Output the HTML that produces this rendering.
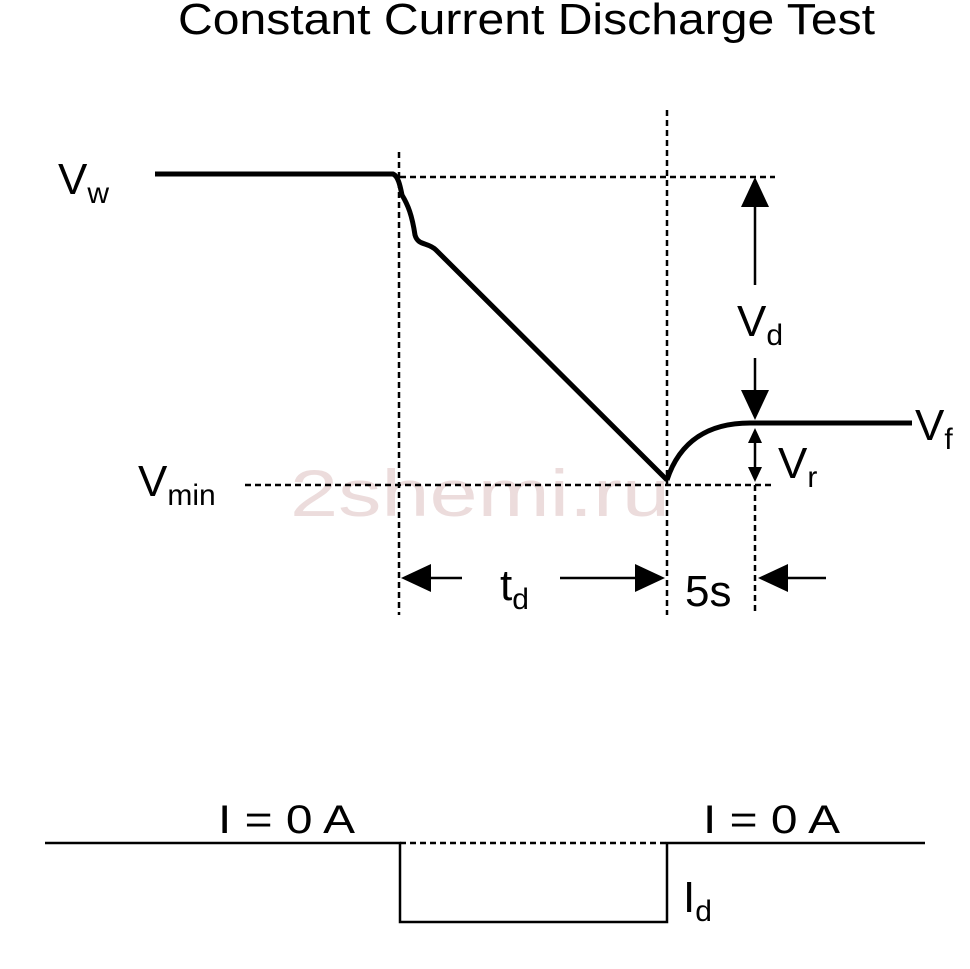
<!DOCTYPE html>
<html><head><style>html,body{margin:0;padding:0;background:#fff}svg{display:block}</style></head>
<body>
<svg width="970" height="969" viewBox="0 0 970 969" xmlns="http://www.w3.org/2000/svg" font-family="Liberation Sans, Arial, sans-serif">
<rect width="970" height="969" fill="#fff"/>
<text x="178" y="34" font-size="44" textLength="697" lengthAdjust="spacingAndGlyphs">Constant Current Discharge Test</text>
<text x="290" y="516" font-size="66" fill="#ecdcdc" textLength="380" lengthAdjust="spacingAndGlyphs">2shemi.ru</text>
<g stroke="#000" stroke-width="2.5" stroke-dasharray="6,4" fill="none">
<line x1="399" y1="152" x2="399" y2="615"/>
<line x1="667" y1="110" x2="667" y2="615"/>
<line x1="755" y1="485" x2="755" y2="615"/>
<line x1="400" y1="177" x2="775" y2="177"/>
<line x1="245" y1="485" x2="775" y2="485"/>
<line x1="400" y1="843" x2="667" y2="843"/>
</g>
<g stroke="#000" stroke-width="5" fill="none" stroke-linejoin="round">
<path d="M155 174 L393 174 C398 176 400 185 402 195 C408 205 412 215 415 235 C418 246 428 242 436 250 L667 480"/>
<path d="M667 480 C680 440 710 423 750 423 L912 423"/>
</g>
<g stroke="#000" stroke-width="2.5" fill="none">
<line x1="755" y1="200" x2="755" y2="285"/>
<line x1="755" y1="358" x2="755" y2="395"/>
<line x1="755" y1="440" x2="755" y2="470"/>
<line x1="425" y1="578" x2="462" y2="578"/>
<line x1="560" y1="578" x2="640" y2="578"/>
<line x1="780" y1="578" x2="826" y2="578"/>
<path d="M45 843 L400 843 L400 922 L667 922 L667 843 L925 843"/>
</g>
<g fill="#000">
<polygon points="755,177 741,207 769,207"/>
<polygon points="755,420 741,390 769,390"/>
<polygon points="755,428 748,443 762,443"/>
<polygon points="755,482 748,467 762,467"/>
<polygon points="401,578 431,564 431,592"/>
<polygon points="665,578 635,564 635,592"/>
<polygon points="758,578 788,564 788,592"/>
</g>
<g font-size="44">
<text x="58" y="194">V<tspan font-size="30" dy="9">w</tspan></text>
<text x="138" y="496">V<tspan font-size="30" dy="9">min</tspan></text>
<text x="737" y="336">V<tspan font-size="30" dy="9">d</tspan></text>
<text x="915" y="440">V<tspan font-size="30" dy="9">f</tspan></text>
<text x="778" y="478">V<tspan font-size="30" dy="9">r</tspan></text>
<text x="500" y="600">t<tspan font-size="30" dy="9">d</tspan></text>
<text x="685" y="606">5s</text>
<text x="218" y="833" font-size="40" textLength="137" lengthAdjust="spacingAndGlyphs">I = 0 A</text>
<text x="703" y="833" font-size="40" textLength="137" lengthAdjust="spacingAndGlyphs">I = 0 A</text>
<text x="683" y="912">I<tspan font-size="30" dy="9">d</tspan></text>
</g>
</svg>
</body></html>
